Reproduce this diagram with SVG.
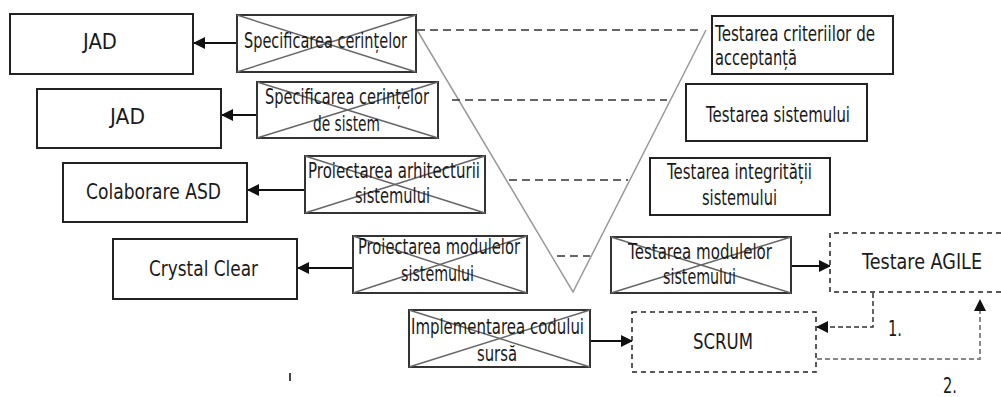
<svg xmlns="http://www.w3.org/2000/svg" width="1001" height="397" viewBox="0 0 1001 397">
<defs>
<marker id="ah" markerUnits="userSpaceOnUse" markerWidth="12" markerHeight="12" viewBox="0 0 12 12" refX="11" refY="6" orient="auto">
<path d="M0,0 L12,6 L0,12 z" fill="#111"/>
</marker>
<style>
.box{fill:#fff;stroke:#222;stroke-width:2}
.xbox{fill:#fff;stroke:#333;stroke-width:2}
.xl{stroke:#666;stroke-width:1.5}
.dbox{fill:#fff;stroke:#222;stroke-width:1.5;stroke-dasharray:5 4}
.t{font-family:"DejaVu Sans",Verdana,sans-serif;font-size:21px;fill:#1a1a1a}
.lev{stroke:#333;stroke-width:1.5;stroke-dasharray:8 5;fill:none}
.v{stroke:#999;stroke-width:1.5;fill:none}
.arr{stroke:#111;stroke-width:2;fill:none;marker-end:url(#ah)}
.darr{stroke:#333;stroke-width:1.5;stroke-dasharray:5 3;fill:none;marker-end:url(#ah)}
.garr{stroke:#888;stroke-width:2;stroke-dasharray:5 3;fill:none;marker-end:url(#ah)}
</style>
</defs>

<g id="v-shape">
<polyline class="v" points="417,30 573,292 706,30"/>
</g>

<g id="connectors">
<line class="lev" x1="417" y1="30" x2="702" y2="30"/>
<line class="lev" x1="452" y1="100" x2="667" y2="100"/>
<line class="lev" x1="509" y1="180" x2="628" y2="180"/>
<line class="lev" x1="557" y1="256" x2="590" y2="256"/>
<line class="arr" x1="236" y1="43" x2="194" y2="43"/>
<line class="arr" x1="257" y1="115" x2="222" y2="115"/>
<line class="arr" x1="305" y1="190" x2="248" y2="190"/>
<line class="arr" x1="353" y1="268" x2="298" y2="268"/>
<line class="arr" x1="791" y1="266" x2="830" y2="266"/>
<line class="arr" x1="590" y1="341" x2="632" y2="341"/>
<polyline class="darr" points="873,293 873,327 817,327"/>
<polyline class="garr" points="817,359 980,359 980,300"/>
<line x1="290" y1="373" x2="290" y2="381" stroke="#444" stroke-width="2"/>
</g>

<g id="jad1">
<rect class="box" x="10" y="14" width="183" height="60"/>
<text class="t" x="83" y="49" textLength="34" lengthAdjust="spacingAndGlyphs">JAD</text>
</g>
<g id="jad2">
<rect class="box" x="37" y="89" width="184" height="59"/>
<text class="t" x="110" y="124" textLength="35" lengthAdjust="spacingAndGlyphs">JAD</text>
</g>
<g id="asd">
<rect class="box" x="63" y="163" width="184" height="59"/>
<text class="t" x="86" y="199" textLength="135" lengthAdjust="spacingAndGlyphs">Colaborare ASD</text>
</g>
<g id="crystal">
<rect class="box" x="113" y="239" width="184" height="60"/>
<text class="t" x="149" y="276" textLength="109" lengthAdjust="spacingAndGlyphs">Crystal Clear</text>
</g>

<g id="spec1">
<rect class="xbox" x="237" y="15" width="179" height="57"/>
<line class="xl" x1="237" y1="15" x2="416" y2="72"/>
<line class="xl" x1="416" y1="15" x2="237" y2="72"/>
<text class="t" x="244" y="48" textLength="163" lengthAdjust="spacingAndGlyphs">Specificarea cerințelor</text>
</g>
<g id="spec2">
<rect class="xbox" x="257" y="82" width="181" height="56"/>
<line class="xl" x1="257" y1="82" x2="438" y2="138"/>
<line class="xl" x1="438" y1="82" x2="257" y2="138"/>
<text class="t" x="265" y="104" textLength="164" lengthAdjust="spacingAndGlyphs">Specificarea cerințelor</text>
<text class="t" x="313" y="131" textLength="67" lengthAdjust="spacingAndGlyphs">de sistem</text>
</g>
<g id="arch">
<rect class="xbox" x="305" y="156" width="180" height="57"/>
<line class="xl" x1="305" y1="156" x2="485" y2="213"/>
<line class="xl" x1="485" y1="156" x2="305" y2="213"/>
<text class="t" x="308" y="178" textLength="172" lengthAdjust="spacingAndGlyphs">Proiectarea arhitecturii</text>
<text class="t" x="355" y="203" textLength="75" lengthAdjust="spacingAndGlyphs">sistemului</text>
</g>
<g id="projmod">
<rect class="xbox" x="353" y="236" width="174" height="57"/>
<line class="xl" x1="353" y1="236" x2="527" y2="293"/>
<line class="xl" x1="527" y1="236" x2="353" y2="293"/>
<text class="t" x="358" y="254" textLength="162" lengthAdjust="spacingAndGlyphs">Proiectarea modulelor</text>
<text class="t" x="401" y="281" textLength="73" lengthAdjust="spacingAndGlyphs">sistemului</text>
</g>
<g id="impl">
<rect class="xbox" x="409" y="310" width="181" height="57"/>
<line class="xl" x1="409" y1="310" x2="590" y2="367"/>
<line class="xl" x1="590" y1="310" x2="409" y2="367"/>
<text class="t" x="411" y="334" textLength="173" lengthAdjust="spacingAndGlyphs">Implementarea codului</text>
<text class="t" x="477" y="361" textLength="40" lengthAdjust="spacingAndGlyphs">sursă</text>
</g>

<g id="testcrit">
<rect class="box" x="712" y="16" width="181" height="58"/>
<text class="t" x="715" y="41" textLength="160" lengthAdjust="spacingAndGlyphs">Testarea criteriilor de</text>
<text class="t" x="715" y="65" textLength="82" lengthAdjust="spacingAndGlyphs">acceptanță</text>
</g>
<g id="testsis">
<rect class="box" x="686" y="84" width="181" height="57"/>
<text class="t" x="706" y="122" textLength="144" lengthAdjust="spacingAndGlyphs">Testarea sistemului</text>
</g>
<g id="testint">
<rect class="box" x="650" y="158" width="180" height="57"/>
<text class="t" x="667" y="179" textLength="145" lengthAdjust="spacingAndGlyphs">Testarea integrității</text>
<text class="t" x="702" y="205" textLength="75" lengthAdjust="spacingAndGlyphs">sistemului</text>
</g>
<g id="testmod">
<rect class="xbox" x="611" y="237" width="180" height="56"/>
<line class="xl" x1="611" y1="237" x2="791" y2="293"/>
<line class="xl" x1="791" y1="237" x2="611" y2="293"/>
<text class="t" x="628" y="259" textLength="144" lengthAdjust="spacingAndGlyphs">Testarea modulelor</text>
<text class="t" x="663" y="284" textLength="73" lengthAdjust="spacingAndGlyphs">sistemului</text>
</g>
<g id="agile">
<path class="dbox" d="M1001,233 H830 V292 H1001"/>
<text class="t" transform="matrix(0.75,0,0,1,862,269)" x="0" y="0" textLength="160" lengthAdjust="spacingAndGlyphs">Testare AGILE</text>
</g>
<g id="scrum">
<rect class="dbox" x="632" y="312" width="184" height="60"/>
<text class="t" x="693" y="349" textLength="60" lengthAdjust="spacingAndGlyphs">SCRUM</text>
</g>
<g id="labels">
<text class="t" x="888" y="336" textLength="14" lengthAdjust="spacingAndGlyphs">1.</text>
<text class="t" x="943" y="393" textLength="14" lengthAdjust="spacingAndGlyphs">2.</text>
</g>
</svg>
